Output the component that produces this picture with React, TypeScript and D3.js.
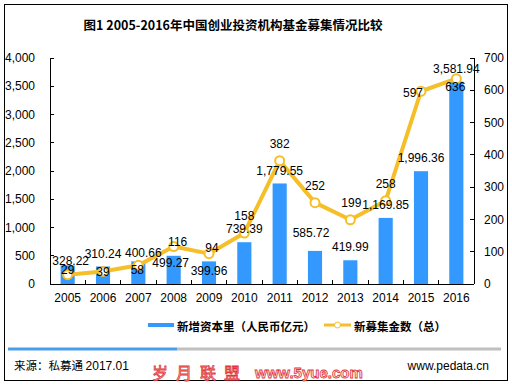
import * as d3 from 'd3'

const years = ['2005', '2006', '2007', '2008', '2009', '2010', '2011', '2012', '2013', '2014', '2015', '2016']
const capital = [328.22, 310.24, 400.66, 499.27, 399.96, 739.39, 1779.55, 585.72, 419.99, 1169.85, 1996.36, 3581.94]
const funds = [29, 39, 58, 116, 94, 158, 382, 252, 199, 258, 597, 636]
const leftTicks = [0, 500, 1000, 1500, 2000, 2500, 3000, 3500, 4000]
const rightTicks = [0, 100, 200, 300, 400, 500, 600, 700]

// label nudges, [dx, dy] from the default spot
const barLabelShift = [[3, 8], [0, 0], [5, 4], [-3, 20], [0, 22], [0, 0], [0, 0], [-4, -5], [0, 0], [0, 0], [0, 0], [0, 0]]
const lineLabelShift = [[0, 12], [0, 17], [-1, 22], [4, 12], [3, 11], [0, 0], [0, 0], [0, 0], [1, 0], [0, 0], [-8, 19], [-1, 25]]

const BLUE = '#3399ff'
const GOLD = '#f5bf2a'
const FONT = 'Arial, "Liberation Sans", sans-serif'
const CJK = '"Noto Sans CJK SC", sans-serif'

export default function App() {
  const W = 512
  const H = 385
  const left = 50
  const right = 474
  const top = 58
  const bottom = 284

  const x = d3.scaleBand<string>().domain(years).range([left, right]).paddingInner(0.6).paddingOuter(0.3)
  const xc = (y: string) => (x(y) || 0) + x.bandwidth() / 2
  const step = (right - left) / years.length
  const yL = d3.scaleLinear().domain([0, 4000]).range([bottom, top])
  const yR = d3.scaleLinear().domain([0, 700]).range([bottom, top])

  const line = d3
    .line<number>()
    .x((_, i) => xc(years[i]))
    .y((d) => yR(d))

  const fmt = d3.format(',.2f')

  return (
    <svg width={W} height={H} style={{ position: 'absolute', left: 0, top: 0, background: '#fff' }}>
      <rect x={4.5} y={4.5} width={503} height={376} fill="#fff" stroke="#000" />
      <text x={233} y={30} textAnchor="middle" fontFamily={CJK} fontWeight="bold" fontSize={12.5} fill="#000">
        图1 2005-2016年中国创业投资机构基金募集情况比较
      </text>

      {/* bars */}
      {capital.map((v, i) => (
        <rect key={years[i]} x={x(years[i])} y={yL(v)} width={x.bandwidth()} height={bottom - yL(v)} fill={BLUE} />
      ))}

      {/* axes */}
      <g stroke="#000" strokeWidth={1} shapeRendering="crispEdges">
        <line x1={left} x2={left} y1={top} y2={bottom} />
        <line x1={right} x2={right} y1={top} y2={bottom} />
        <line x1={left} x2={right} y1={bottom} y2={bottom} />
        {leftTicks.map((t) => (
          <line key={'l' + t} x1={left} x2={left + 4} y1={yL(t)} y2={yL(t)} />
        ))}
        {rightTicks.map((t) => (
          <line key={'r' + t} x1={right - 4} x2={right} y1={yR(t)} y2={yR(t)} />
        ))}
        {years.map((y, i) => (
          <line key={'x' + y} x1={left + step * (i + 1)} x2={left + step * (i + 1)} y1={bottom - 4} y2={bottom} />
        ))}
      </g>
      <g fontFamily={FONT} fontSize={12} fill="#000">
        {leftTicks.map((t) => (
          <text key={'lt' + t} x={35} y={yL(t)} dy="0.35em" textAnchor="end">
            {d3.format(',')(t)}
          </text>
        ))}
        {rightTicks.map((t) => (
          <text key={'rt' + t} x={484} y={yR(t)} dy="0.35em">
            {t}
          </text>
        ))}
        {years.map((y) => (
          <text key={'xt' + y} x={xc(y)} y={298} dy="0.35em" textAnchor="middle">
            {y}
          </text>
        ))}
      </g>

      {/* line */}
      <path d={line(funds) || undefined} fill="none" stroke={GOLD} strokeWidth={4} strokeLinejoin="round" />
      {funds.map((v, i) => (
        <circle key={'c' + i} cx={xc(years[i])} cy={yR(v)} r={4.5} fill="#fff" stroke={GOLD} strokeWidth={2} />
      ))}

      {/* data labels */}
      <g fontFamily={FONT} fontSize={12} fill="#000" textAnchor="middle">
        {capital.map((v, i) => (
          <text key={'bl' + i} x={xc(years[i]) + barLabelShift[i][0]} y={yL(v) - 13 + barLabelShift[i][1]} dy="0.35em">
            {fmt(v)}
          </text>
        ))}
        {funds.map((v, i) => (
          <text key={'ll' + i} x={xc(years[i]) + lineLabelShift[i][0]} y={yR(v) - 17 + lineLabelShift[i][1]} dy="0.35em">
            {v}
          </text>
        ))}
      </g>

      {/* legend */}
      <line x1={148} x2={174} y1={325} y2={325} stroke={BLUE} strokeWidth={4} />
      <text x={177} y={327} dy="0.35em" fontFamily={CJK} fontWeight="bold" fontSize={11.5}>
        新增资本里（人民币亿元）
      </text>
      <line x1={324} x2={351} y1={325} y2={325} stroke={GOLD} strokeWidth={3} />
      <circle cx={337.5} cy={325} r={3} fill="#fff" stroke={GOLD} strokeWidth={1} />
      <text x={354} y={327} dy="0.35em" fontFamily={CJK} fontWeight="bold" fontSize={11.5}>
        新募集金数（总）
      </text>

      {/* footer */}
      <line x1={8} x2={177} y1={349} y2={349} stroke="#4a9de6" strokeWidth={3} />
      <line x1={177} x2={501} y1={349} y2={349} stroke="#c0c0c0" strokeWidth={3} />
      <text x={14} y={366} dy="0.35em" fontFamily={CJK} fontSize={11.5}>
        来源：私募通 <tspan fontFamily={FONT} fontSize={12}>2017.01</tspan>
      </text>
      <text x={489} y={366} dy="0.35em" textAnchor="end" fontFamily={FONT} fontSize={12}>
        www.pedata.cn
      </text>
      <g fill="#fbe3e3" stroke="#e0353a" strokeWidth={0.8} fontSize={16}>
        <text x={152} y={373} dy="0.35em" fontFamily={CJK} letterSpacing={8}>
          岁月联盟
        </text>
        <text x={255} y={373} dy="0.35em" fontFamily={FONT} fontWeight="bold" fontSize={15}>
          www.5yue.com
        </text>
      </g>
    </svg>
  )
}
